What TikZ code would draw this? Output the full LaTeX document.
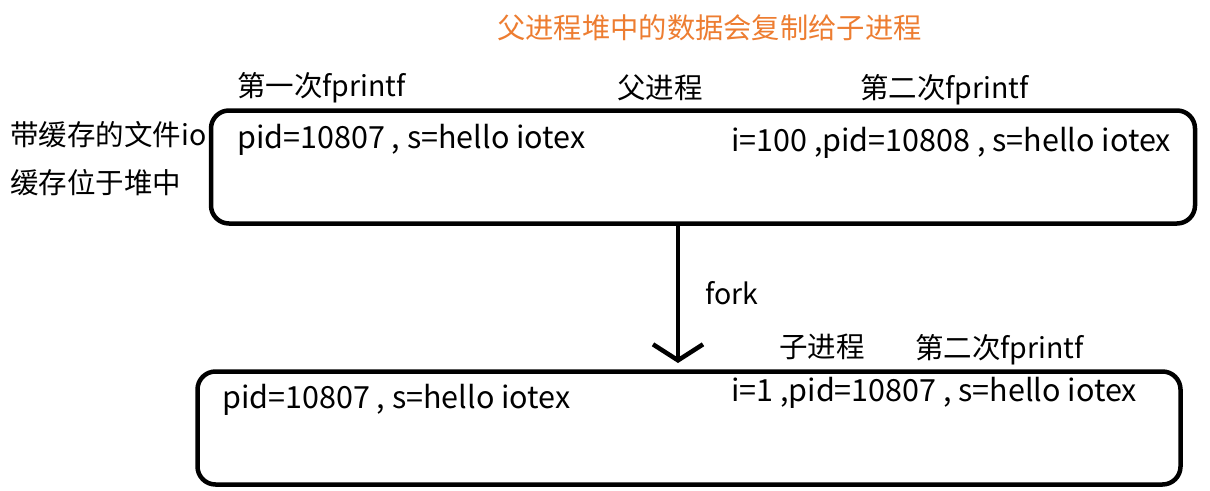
\documentclass[tikz,border=0pt]{standalone}
\usepackage{fontspec}
\setmainfont{Noto Sans CJK SC}
\usetikzlibrary{arrows.meta}
\definecolor{titleorange}{RGB}{237,125,49}

\tikzset{
  membox/.style={draw, line width=4.5pt, rounded corners=18pt, inner sep=0pt},
  lbl/.style={anchor=west, inner sep=0pt, font=\fontsize{28.5}{32}\selectfont},
  val/.style={anchor=west, inner sep=0pt, font=\fontsize{30.5}{34}\selectfont}
}

\begin{document}
\begin{tikzpicture}[x=1pt, y=-1pt]
    \useasboundingbox (0,0) rectangle (1210,490);
    % title
    \node[lbl, text=titleorange, font=\fontsize{28.3}{32}\selectfont] (title) at (497,28) {父进程堆中的数据会复制给子进程};
    % parent process
    \node[membox, minimum width=984pt, minimum height=113pt] (parent) at (703,167) {};
    \node[lbl] (first) at (237,88) {第一次fprintf};
    \node[lbl] (pname) at (617,88) {父进程};
    \node[lbl] (second) at (860,90) {第二次fprintf};
    \node[lbl] (buf) at (10,135) {带缓存的文件io};
    \node[lbl] (heap) at (10,183) {缓存位于堆中};
    \node[val] (pfirst) at (237,140) {pid=10807 , s=hello iotex};
    \node[val] (psecond) at (731,143) {i=100 ,pid=10808 , s=hello iotex};
    % child process
    \node[membox, minimum width=983pt, minimum height=113pt] (child) at (689,428) {};
    \coordinate (forktip) at (678,363);
    \draw[line width=4.5pt, -{Straight Barb[length=16pt, width=50pt]}] (parent.south -| forktip) -- (forktip);
    \node[lbl] (fork) at (705,293) {fork};
    \node[lbl] (cname) at (779,347) {子进程};
    \node[lbl] (csecond) at (915,350) {第二次fprintf};
    \node[val] (cfirst) at (222,400) {pid=10807 , s=hello iotex};
    \node[val] (csecondv) at (731,393) {i=1 ,pid=10807 , s=hello iotex};
  \end{tikzpicture}
\end{document}
